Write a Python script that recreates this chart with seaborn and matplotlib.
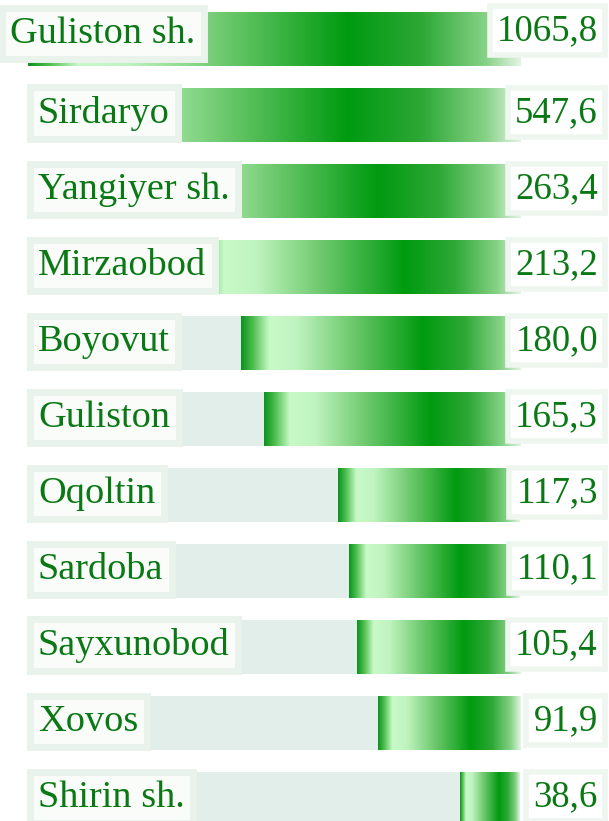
import matplotlib
matplotlib.use("Agg")
import matplotlib.pyplot as plt
import matplotlib.transforms as mtransforms
from matplotlib.colors import LinearSegmentedColormap
import numpy as np
import pandas as pd
import seaborn as sns

districts = ["Guliston sh.", "Sirdaryo", "Yangiyer sh.", "Mirzaobod", "Boyovut",
             "Guliston", "Oqoltin", "Sardoba", "Sayxunobod", "Xovos", "Shirin sh."]
values = [1065.8, 547.6, 263.4, 213.2, 180.0, 165.3, 117.3, 110.1, 105.4, 91.9, 38.6]
value_labels = [f"{v:.1f}".replace(".", ",") for v in values]

df = pd.DataFrame({"district": districts, "value": values})

sns.set_theme(style="white")
plt.rcParams["font.family"] = ["Liberation Serif", "DejaVu Serif"]

W, H = 609, 821
fig = plt.figure(figsize=(W / 100, H / 100), dpi=100)
fig.patch.set_facecolor("white")
ax = fig.add_axes([28 / W, 0, (W - 28) / W, 1])

XL = (317.4, -57.4)
YL = (10.29, -0.513)
BAR_H = 0.72

# background strips
ax.barh(range(len(districts)), XL[0], height=BAR_H, color="#E2EEEA", zorder=0.5, linewidth=0)

sns.barplot(data=df, x="value", y="district", orient="h", ax=ax, width=BAR_H,
            color="#009a10", saturation=1, zorder=2)

cmap = LinearSegmentedColormap.from_list("bargrad", [
    (0.00, "#0c9420"), (0.04, "#4cbc4c"), (0.10, "#c8fac8"), (0.20, "#bff3bf"),
    (0.40, "#6cc86c"), (0.65, "#009a10"), (0.80, "#2ea836"), (0.93, "#86d286"),
    (1.00, "#e2f4e2")])
grad = np.linspace(0, 1, 256).reshape(1, -1)

for p in ax.patches:
    if p.zorder < 2:
        continue
    p.set_facecolor("none")
    p.set_edgecolor("none")
    y0, h, w = p.get_y(), p.get_height(), p.get_width()
    xv = min(w, XL[0])
    im = ax.imshow(grad, extent=(xv, 0, y0 + h, y0), aspect="auto", cmap=cmap,
                   interpolation="bilinear", zorder=2)
    im.set_clip_path(p)

ax.set_xlim(XL)
ax.set_ylim(YL)
ax.axis("off")

trans = mtransforms.blended_transform_factory(fig.transFigure, ax.transData)
txt_color = "#0a7814"
LABEL_FS = 27.5
VALUE_FS = 26.5
for i, (name, lab) in enumerate(zip(districts, value_labels)):
    lx = 10 / W if i == 0 else 38 / W
    ly = i + (0.05 if i == 0 else 0.1)
    ax.text(lx, ly, name, transform=trans, ha="left", va="baseline",
            fontsize=LABEL_FS, color=txt_color, zorder=5, clip_on=False,
            bbox=dict(boxstyle="square,pad=0.22", fc="#f9fcf9", ec="#e9f2eb", lw=5))
    vy = i + (0.01 if i == 0 else 0.09)
    ax.text(598 / W, vy, lab, transform=trans, ha="right", va="baseline",
            fontsize=VALUE_FS, color=txt_color, zorder=5, clip_on=False,
            bbox=dict(boxstyle="square,pad=0.2", fc="white", ec="#eef6ef", lw=4))

fig.savefig("out.png", dpi=100, facecolor="white")
